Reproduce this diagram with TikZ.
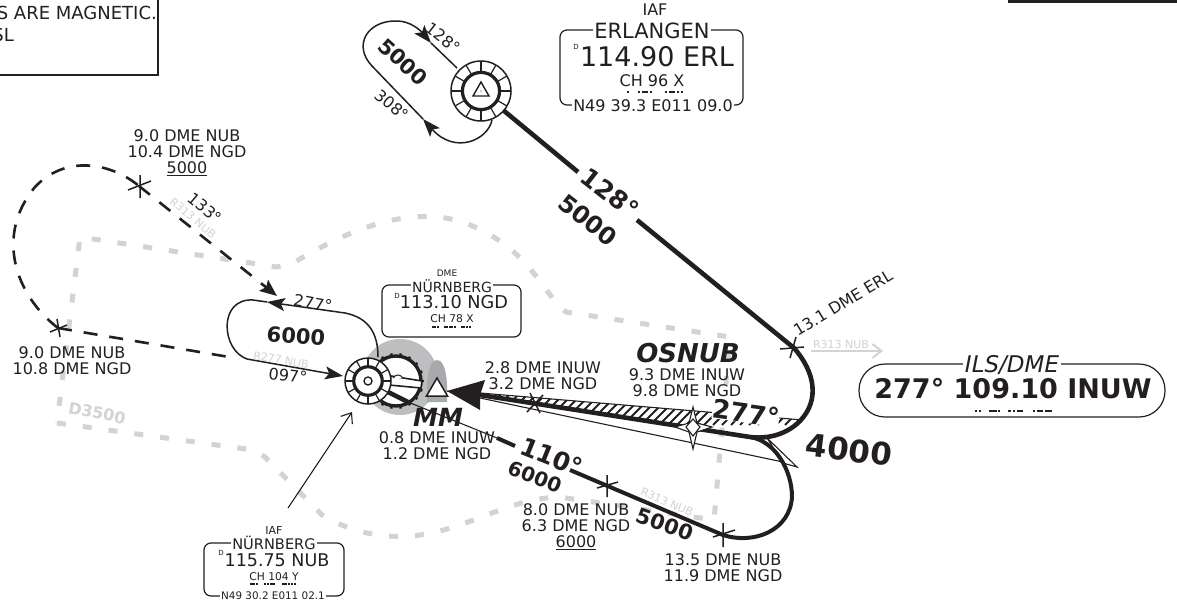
\documentclass[tikz,border=0pt]{standalone}
\usepackage{fontspec}
\setmainfont{DejaVu Sans}
\usetikzlibrary{arrows.meta}
\definecolor{ink}{HTML}{231F20}
\definecolor{airsp}{HTML}{D1D3D4}
\definecolor{blobl}{HTML}{BCBEC0}
\definecolor{blobd}{HTML}{A7A9AC}
\newcommand{\fsz}[1]{\fontsize{#1}{#1}\selectfont}
\tikzset{
  lab/.style={inner sep=0pt,text=ink,align=center},
  nlab/.style={lab,font=\fsz{16}},
  blab/.style={lab,font=\fsz{#1}\bfseries},
  whitelab/.style={inner sep=1.5pt,fill=white,text=ink},
  glab/.style={inner sep=0pt,text=airsp,font=\fsz{11}},
  thin line/.style={draw=ink,line width=1.1pt},
  thick track/.style={draw=ink,line width=4.6pt},
  hold/.style={draw=ink,line width=1.5pt},
  dashtrack/.style={draw=ink,line width=2.6pt,dash pattern=on 14pt off 12pt},
  fixmark/.style={draw=ink,line width=1.5pt},
  infobox/.style={draw=ink,line width=1.2pt,rounded corners=7pt,fill=white,inner sep=0pt},
  morsebar/.style={draw=ink,line width=1.4pt},
  bigtip/.style={-{Stealth[length=18pt,width=13pt,inset=4pt]}},
  vorsym/.pic={
    \fill[white] (0,0) circle (1);
    \foreach \ang in {0,30,...,330}
      \draw[ink,line width=1.2pt] (\ang:0.62) -- (\ang:1);
    \draw[ink,line width=1.5pt] (0,0) circle (1);
    \draw[ink,line width=3.2pt,fill=white] (0,0) circle (0.62);
  }
}
\begin{document}
\begin{tikzpicture}[x=1pt,y=-1pt]
\path[use as bounding box,clip] (0,0) rectangle (1177,605);
\fill[white] (0,0) rectangle (1177,605);

% corner boxes
\node[draw=ink,line width=2pt,minimum width=200pt,minimum height=100pt,anchor=south east,inner sep=0pt] (notebox) at (159,76) {};
\node[lab,font=\fsz{18},anchor=east] (notea) at (157,13) {S ARE MAGNETIC.};
\node[lab,font=\fsz{18},anchor=east] (noteb) at (14,35) {SL};
\node[draw=ink,line width=3pt,minimum width=190pt,minimum height=30pt,anchor=south west,inner sep=0pt] (topbox) at (1008,3) {};

% airspace outline
\draw[airsp,line width=5pt,dash pattern=on 9pt off 17pt]
  (57,423) -- (253,450) -- (265,457) -- (322,515) .. controls (350,532) and (385,540) .. (420,535)
  .. controls (470,528) and (510,498) .. (560,497) -- (714,520) -- (730,337) -- (566,312)
  .. controls (540,290) and (530,250) .. (470,225) .. controls (410,200) and (340,235) .. (293,263)
  -- (277,267) -- (80,237) -- (57,423);
\node[lab,font=\fsz{16}\bfseries,text=airsp,rotate=-11] (dlab) at (97,413) {D3500};

% grey blobs
\fill[blobl] (400,377) circle (38);
\fill[blobd] (427,402) -- (427,385) .. controls (428,365) and (433,360) .. (437,360) .. controls (441,360) and (446,365) .. (447,385) -- (447,402) -- cycle;

% coordinates of fixes and beacons
\coordinate (erl) at (481,91);
\coordinate (ngd) at (368,381);
\coordinate (scal) at (396,381);
\coordinate (fixerl) at (794,348);
\coordinate (fixdme) at (723,535);
\coordinate (fixmid) at (607,486);
\coordinate (fixnw) at (139,186);
\coordinate (fixw) at (58,328);
\coordinate (tip) at (447,391);
\coordinate (notch) at (480,395);
\coordinate (osnub) at (693,428);
\coordinate (join) at (750,437);

% localiser feather
\fill[white,draw=ink,line width=1.1pt] (767,438) -- (797,467) -- (783,463) -- cycle;
\begin{scope}
  \clip (480,393) -- (803,420) -- (785,433) -- (760,438) -- (480,397) -- cycle;
  \foreach \xx in {470,479,...,830}
    \draw[ink,line width=2pt] (\xx,425) -- (\xx+32,393);
\end{scope}
\draw[thin line] (notch) ++(0,-2) -- (803,420);
\draw[thin line] (tip) -- (783,462);

% main tracks
\draw[thick track] (503,110) -- (578,172);
\draw[thick track] (637,220) -- (fixerl)
  .. controls (815,372) and (820,400) .. (800,421)
  .. controls (785,436) and (765,439) .. (join);
\draw[thick track] (notch) -- (join);
\fill[ink] (tip) -- (485,380) -- (480,395) -- (480,410) -- cycle;
\draw[thick track,line width=4pt] (join) .. controls (775,441) and (792,470) .. (792,497)
  .. controls (790,530) and (755,545) .. (fixdme) -- (570,470);
\draw[thick track,line width=4pt] (515,446) -- (497,438);
\draw[thin line] (497,438) -- (408,402);

% holds
\draw[hold,bigtip] (492,120) .. controls (488,140) and (455,155) .. (423,119);
\draw[hold,bigtip] (423,119) -- (372,66) .. controls (352,45) and (368,20) .. (397,21)
  .. controls (410,21) and (420,30) .. (431,43);
\draw[hold] (431,43) -- (457,68);
\draw[hold,bigtip] (378,357) .. controls (378,335) and (370,318) .. (345,313) -- (267,302);
\draw[hold,bigtip] (267,302) -- (253,300) .. controls (218,298) and (221,350) .. (247,359) -- (343,376);

% procedure turn (dashed)
\draw[dashtrack] (fixw) -- (235,358);
\draw[dashtrack] (fixw) .. controls (15,295) and (-5,235) .. (35,187)
  .. controls (65,155) and (110,162) .. (fixnw);
\draw[dashtrack,-{Stealth[length=17pt,width=14pt,inset=3pt]}] (fixnw) -- (277,296);

% fix marks
\draw[fixmark] (780,349) -- (804,347) (790,358) -- (796,337);
\draw[fixmark] (527,412) -- (543,395) (530,393) -- (540,413);
\draw[fixmark] (607,475) -- (607,497) (597,488) -- (618,482);
\draw[fixmark] (723,523) -- (723,547) (713,537) -- (735,530);
\draw[fixmark] (140,175) -- (140,198) (128,190) -- (151,181);
\draw[fixmark] (50,332) -- (67,325) (57,319) -- (60,337);

% OSNUB star
\draw[thin line,fill=white] (693,407) -- (697,423) -- (712,427) -- (697,432) -- (693,449) -- (689,432) -- (675,427) -- (689,423) -- cycle;
\draw[thin line] (693,419) -- (700,427) -- (693,436) -- (686,427) -- cycle;

% beacons
\pic[scale=30] at (erl) {vorsym};
\draw[ink,line width=1.4pt,fill=white] (481,82) -- (473,96) -- (489,96) -- cycle;
\fill[ink] (481,91) circle (0.7);

\draw[ink,line width=3.4pt,fill=white] (scal) circle (25);
\foreach \ang in {0,20,...,340}
  \draw[ink,line width=2.6pt] (scal) ++(\ang:25) -- ++(\ang:3);
\draw[ink,line width=1.6pt,fill=white] (391,376) -- (422,381) -- (421,388) -- (389,385) -- cycle;
\draw[ink,line width=4.5pt] (388,392) -- (408,402);
\draw[ink,line width=1pt,fill=white] (393,378) .. controls (396,374) and (400,374) .. (403,378);
\pic[scale=23] at (ngd) {vorsym};
\draw[ink,line width=1.4pt,fill=white] (ngd) circle (4);
\draw[ink,line width=1.5pt,fill=white] (437,378) -- (426.5,396) -- (447.5,396) -- cycle;

% pointer to the NUB box
\coordinate (ptr) at (352,412);
\draw[thin line,-{Straight Barb[length=9pt,width=14pt]}] (288,508) -- (ptr);

% info boxes
\node[infobox,minimum width=183pt,minimum height=75pt] (erlbox) at (651.5,67.5) {};
\node[whitelab,font=\fsz{21}] (erlname) at (652,31) {ERLANGEN};
\node[lab,font=\fsz{27}] (erlfreq) at (657,57) {114.90 ERL};
\node[lab,font=\fsz{7}] (erld) at (576,47) {D};
\node[lab,font=\fsz{16}] (erlch) at (652,81) {CH 96 X};
\node[whitelab,font=\fsz{16}] (erlpos) at (653,106) {N49 39.3 E011 09.0};
\node[nlab] (erliaf) at (655,10) {IAF};
\foreach \a/\b in {627/629,638/640,642/648,650/652,665/667,669/675,677/679,681/683}
  \draw[morsebar] (\a,92) -- (\b,92);

\node[infobox,minimum width=139pt,minimum height=52pt] (ngdbox) at (451.5,311) {};
\node[whitelab,font=\fsz{14}] (ngdname) at (452,286) {NÜRNBERG};
\node[lab,font=\fsz{17.7}] (ngdfreq) at (454,302) {113.10 NGD};
\node[lab,font=\fsz{7}] (ngdd) at (397,296) {D};
\node[lab,font=\fsz{10.7}] (ngdch) at (452,319) {CH 78 X};
\node[lab,font=\fsz{9}] (ngddme) at (447,273) {DME};
\foreach \a/\b in {432/436,437/439,444/448,449/453,454/456,461/465,466/468,469/471}
  \draw[morsebar,line width=1.1pt] (\a,327) -- (\b,327);

\node[infobox,minimum width=140pt,minimum height=53pt] (nubbox) at (274,569.5) {};
\node[whitelab,font=\fsz{14.6}] (nubname) at (274,543) {NÜRNBERG};
\node[lab,font=\fsz{17.5}] (nubfreq) at (277,560) {115.75 NUB};
\node[lab,font=\fsz{7}] (nubd) at (221,553) {D};
\node[lab,font=\fsz{10.7}] (nubch) at (274,577) {CH 104 Y};
\node[whitelab,font=\fsz{10.4}] (nubpos) at (273,596) {N49 30.2 E011 02.1};
\node[lab,font=\fsz{11}] (nubiaf) at (274,530) {IAF};
\foreach \a/\b in {250/255,256/258,264/266,267/269,270/275,282/287,288/290,291/293,294/296}
  \draw[morsebar,line width=1.1pt] (\a,584) -- (\b,584);

\node[infobox,rounded corners=26pt,minimum width=306pt,minimum height=53pt] (ilsbox) at (1012,390.5) {};
\node[whitelab,font=\fsz{23}\itshape] (ilsname) at (1012,365) {ILS/DME};
\node[blab=27] (ilsfreq) at (1013,389) {277° 109.10 INUW};
\foreach \a/\b in {975/977,979/981,989/997,998/1000,1008/1011,1013/1015,1017/1023,1033/1035,1037/1043,1045/1052}
  \draw[morsebar] (\a,411) -- (\b,411);

% grey radial labels
\node[glab,rotate=-40] (r313a) at (193,218) {R313 NUB};
\node[glab,rotate=-10] (r277) at (281,360) {R277 NUB};
\node[glab,rotate=-24] (r313b) at (667,502) {R313 NUB};
\node[glab] (r313c) at (841,344) {R313 NUB};
\coordinate (rarrS) at (811,351);
\coordinate (rarrE) at (883,351);
\draw[airsp,line width=2pt,-{Straight Barb[length=9pt,width=14pt]}] (rarrS) -- (rarrE);

% labels
\node[nlab] (l1) at (187,153) {9.0 DME NUB\\[0pt]10.4 DME NGD\\[0pt]\underline{5000}};
\node[nlab] (l2) at (72,361) {9.0 DME NUB\\[0pt]10.8 DME NGD};
\node[nlab] (l3) at (543,376) {2.8 DME INUW\\[0pt]3.2 DME NGD};
\node[nlab] (l4) at (437,446) {0.8 DME INUW\\[0pt]1.2 DME NGD};
\node[nlab] (l5) at (687,383) {9.3 DME INUW\\[0pt]9.8 DME NGD};
\node[nlab] (l6) at (576,527) {8.0 DME NUB\\[0pt]6.3 DME NGD\\[0pt]\underline{6000}};
\node[nlab] (l7) at (723,568) {13.5 DME NUB\\[0pt]11.9 DME NGD};
\node[nlab,rotate=31] (l8) at (843,303) {13.1 DME ERL};
\node[nlab,rotate=-38] (c128) at (443,38) {128°};
\node[nlab,rotate=-40] (c308) at (392,105) {308°};
\node[nlab,rotate=-40] (c133) at (205,208) {133°};
\node[nlab,rotate=-10] (c277) at (313,303) {277°};
\node[nlab,rotate=-6] (c097) at (288,376) {097°};

\node[blab=21,rotate=-42] (a5000a) at (403,62) {5000};
\node[blab=21,rotate=-5] (a6000a) at (296,336) {6000};
\node[blab=25,rotate=-38] (t128) at (610,193) {128°};
\node[blab=24,rotate=-38] (a5000b) at (588,220) {5000};
\node[blab=25,rotate=-22] (t110) at (552,457) {110°};
\node[blab=20,rotate=-22] (a6000b) at (535,477) {6000};
\node[blab=21,rotate=-20] (a5000c) at (665,524) {5000};
\node[blab=31,rotate=-7] (a4000) at (849,450) {4000};
\node[lab,font=\fsz{26}\bfseries,fill=white,rotate=-8] (t277) at (746,413) {277°};
\node[lab,font=\fsz{25}\bfseries\itshape] (mm) at (438,417) {MM};
\node[lab,font=\fsz{26}\bfseries\itshape] (osn) at (688,353) {OSNUB};
\end{tikzpicture}
\end{document}
